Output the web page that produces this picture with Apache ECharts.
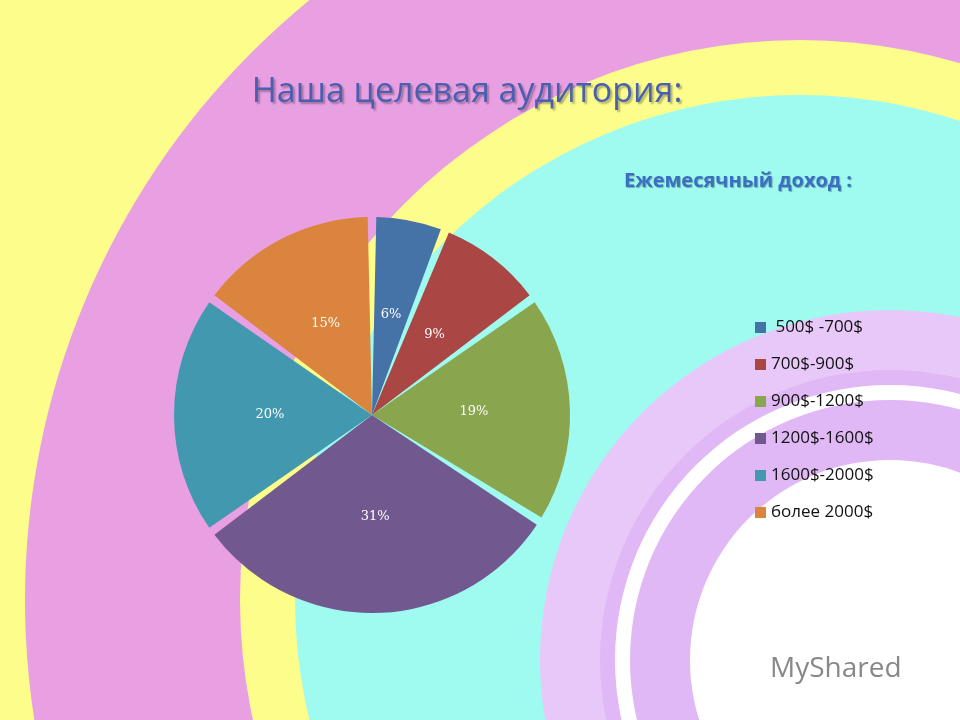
<!DOCTYPE html><html><head><meta charset="utf-8"><script src="https://cdn.jsdelivr.net/npm/echarts@6/dist/echarts.min.js"></script>
<style>html,body{margin:0;padding:0}#c{width:960px;height:720px}</style></head><body><div id="c"></div><script>
const categories=[' 500$ -700$','700$-900$','900$-1200$','1200$-1600$','1600$-2000$','более 2000$'];
const values=[6,9,19,31,20,15];
const colors=['#4572a7','#aa4643','#89a54e','#71588f','#4198af','#db843d'];
const ch=echarts.init(document.getElementById('c'));
const circ=(cx,cy,r,fill)=>({type:'circle',shape:{cx,cy,r},style:{fill},silent:true});
ch.setOption({
backgroundColor:'#fdfd8c',
graphic:[circ(800,600,775,'#e9a0e3'),circ(800,600,560,'#fdfd8c'),circ(800,600,505,'#9ffbef'),
circ(890,660,350,'#e8c8f8'),circ(890,660,290,'#e0b8f5'),circ(890,660,275,'#ffffff'),circ(890,660,260,'#e0b8f5'),circ(890,660,200,'#ffffff'),
{type:'text',left:770,top:655,style:{text:'MyShared',font:'28px "Open Sans"',fill:'#888'},silent:true}],
title:[{text:'Наша целевая аудитория:',left:462,top:70,textAlign:'center',textStyle:{fontSize:34,fontWeight:'normal',color:'#4a5fb0',fontFamily:'"Open Sans"',textShadowColor:'rgba(0,0,0,0.3)',textShadowBlur:2,textShadowOffsetX:2,textShadowOffsetY:2}},
{text:'Ежемесячный доход :',left:733,top:166,textAlign:'center',textStyle:{fontSize:20,fontWeight:'bold',color:'#3a6fc4',fontFamily:'"Open Sans"',textShadowColor:'rgba(0,0,0,0.3)',textShadowBlur:1,textShadowOffsetX:1,textShadowOffsetY:1}}],
legend:{orient:'vertical',left:750,top:314,itemWidth:11,itemHeight:11,itemGap:20,icon:'rect',textStyle:{fontSize:17,color:'#111',fontFamily:'"Open Sans"'},data:categories},
series:[{type:'pie',center:[372,415],radius:[0,198],startAngle:90,clockwise:true,color:colors,
padAngle:2.5,
data:categories.map((n,i)=>({name:n,value:values[i]})),
label:{position:'inside',formatter:'{c}%',fontFamily:'"DejaVu Serif"',fontSize:13,color:'#fff'},
labelLine:{show:false}}]
});
</script></body></html>
